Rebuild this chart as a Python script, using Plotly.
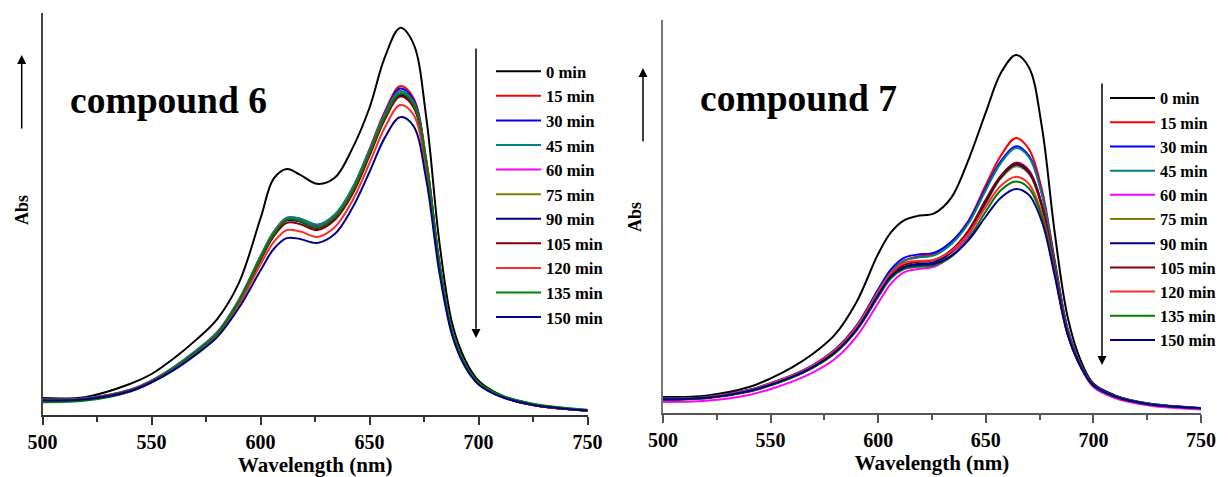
import plotly.graph_objects as go

wavelength = [500, 520, 540, 550, 560, 570, 580, 590, 600, 606, 612, 618, 626, 634,
              642, 650, 657, 664, 670, 676, 682, 688, 694, 700, 710, 725, 750]

time_labels = ["0 min", "15 min", "30 min", "45 min", "60 min", "75 min", "90 min",
               "105 min", "120 min", "135 min", "150 min"]

# compound 6 absorbance (arbitrary units)
c6_0 = [0.042, 0.045, 0.077, 0.102, 0.140, 0.185, 0.238, 0.328, 0.490, 0.588, 0.612, 0.598, 0.575, 0.590,
        0.662, 0.765, 0.890, 0.963, 0.925, 0.740, 0.430, 0.225, 0.135, 0.085, 0.050, 0.027, 0.012]
c6_15 = [0.038, 0.041, 0.062, 0.085, 0.118, 0.158, 0.205, 0.285, 0.395, 0.455, 0.490, 0.487, 0.470, 0.495,
         0.562, 0.662, 0.755, 0.818, 0.790, 0.635, 0.380, 0.205, 0.122, 0.078, 0.047, 0.025, 0.011]
c6_30 = [0.038, 0.041, 0.062, 0.085, 0.117, 0.157, 0.204, 0.284, 0.393, 0.453, 0.488, 0.485, 0.469, 0.494,
         0.560, 0.659, 0.751, 0.812, 0.785, 0.632, 0.378, 0.204, 0.122, 0.078, 0.047, 0.025, 0.011]
c6_45 = [0.039, 0.042, 0.063, 0.086, 0.119, 0.159, 0.206, 0.287, 0.396, 0.456, 0.491, 0.489, 0.474, 0.499,
         0.564, 0.660, 0.749, 0.806, 0.780, 0.630, 0.378, 0.205, 0.123, 0.079, 0.048, 0.026, 0.012]
c6_60 = [0.037, 0.040, 0.061, 0.084, 0.116, 0.156, 0.203, 0.283, 0.392, 0.452, 0.487, 0.484, 0.468, 0.493,
         0.557, 0.654, 0.744, 0.800, 0.775, 0.626, 0.376, 0.203, 0.122, 0.078, 0.047, 0.025, 0.011]
c6_75 = [0.037, 0.040, 0.061, 0.084, 0.116, 0.156, 0.202, 0.282, 0.391, 0.451, 0.486, 0.483, 0.467, 0.492,
         0.555, 0.652, 0.742, 0.798, 0.773, 0.625, 0.375, 0.203, 0.121, 0.078, 0.047, 0.025, 0.011]
c6_90 = [0.036, 0.039, 0.060, 0.083, 0.115, 0.155, 0.201, 0.281, 0.389, 0.449, 0.484, 0.481, 0.465, 0.490,
         0.553, 0.650, 0.739, 0.795, 0.770, 0.622, 0.373, 0.202, 0.121, 0.078, 0.047, 0.025, 0.011]
c6_105 = [0.037, 0.040, 0.061, 0.083, 0.115, 0.154, 0.200, 0.279, 0.385, 0.444, 0.478, 0.475, 0.460, 0.485,
          0.548, 0.645, 0.735, 0.792, 0.767, 0.620, 0.372, 0.202, 0.121, 0.078, 0.047, 0.025, 0.011]
c6_120 = [0.036, 0.039, 0.060, 0.082, 0.113, 0.152, 0.197, 0.274, 0.375, 0.430, 0.460, 0.457, 0.443, 0.467,
          0.532, 0.627, 0.715, 0.771, 0.748, 0.607, 0.366, 0.200, 0.120, 0.077, 0.047, 0.025, 0.011]
c6_135 = [0.032, 0.036, 0.058, 0.082, 0.114, 0.154, 0.201, 0.281, 0.390, 0.450, 0.486, 0.483, 0.467, 0.492,
          0.555, 0.652, 0.742, 0.800, 0.774, 0.626, 0.378, 0.206, 0.125, 0.081, 0.050, 0.028, 0.013]
c6_150 = [0.036, 0.039, 0.059, 0.081, 0.111, 0.149, 0.193, 0.266, 0.360, 0.413, 0.440, 0.438, 0.428, 0.450,
          0.514, 0.605, 0.690, 0.741, 0.720, 0.585, 0.355, 0.196, 0.118, 0.076, 0.046, 0.025, 0.011]

# compound 7 absorbance (arbitrary units)
c7_0 = [0.041, 0.044, 0.066, 0.088, 0.116, 0.152, 0.200, 0.283, 0.405, 0.460, 0.490, 0.501, 0.508, 0.548,
        0.645, 0.765, 0.865, 0.911, 0.880, 0.730, 0.460, 0.245, 0.135, 0.075, 0.045, 0.025, 0.013]
c7_15 = [0.036, 0.040, 0.058, 0.075, 0.095, 0.122, 0.160, 0.220, 0.310, 0.360, 0.388, 0.398, 0.405, 0.435,
         0.490, 0.580, 0.655, 0.700, 0.672, 0.570, 0.390, 0.215, 0.125, 0.072, 0.043, 0.024, 0.012]
c7_30 = [0.037, 0.041, 0.059, 0.076, 0.096, 0.123, 0.162, 0.223, 0.315, 0.366, 0.395, 0.403, 0.408, 0.436,
         0.488, 0.572, 0.641, 0.679, 0.655, 0.560, 0.385, 0.213, 0.124, 0.072, 0.043, 0.024, 0.012]
c7_45 = [0.036, 0.040, 0.058, 0.075, 0.095, 0.121, 0.159, 0.219, 0.309, 0.359, 0.387, 0.395, 0.401, 0.430,
         0.483, 0.567, 0.636, 0.674, 0.651, 0.557, 0.383, 0.212, 0.124, 0.072, 0.043, 0.024, 0.012]
c7_60 = [0.028, 0.031, 0.046, 0.061, 0.080, 0.104, 0.138, 0.195, 0.280, 0.330, 0.358, 0.366, 0.372, 0.400,
         0.452, 0.533, 0.600, 0.637, 0.618, 0.532, 0.368, 0.205, 0.118, 0.066, 0.038, 0.020, 0.009]
c7_75 = [0.033, 0.037, 0.054, 0.070, 0.090, 0.116, 0.152, 0.210, 0.296, 0.345, 0.370, 0.377, 0.382, 0.408,
         0.458, 0.535, 0.597, 0.628, 0.609, 0.526, 0.366, 0.205, 0.120, 0.070, 0.042, 0.023, 0.012]
c7_90 = [0.034, 0.038, 0.055, 0.071, 0.091, 0.117, 0.154, 0.212, 0.298, 0.347, 0.372, 0.379, 0.384, 0.410,
         0.460, 0.538, 0.600, 0.632, 0.612, 0.528, 0.367, 0.205, 0.120, 0.070, 0.042, 0.023, 0.012]
c7_105 = [0.035, 0.039, 0.056, 0.072, 0.092, 0.118, 0.155, 0.214, 0.302, 0.352, 0.377, 0.384, 0.389, 0.415,
          0.465, 0.543, 0.604, 0.636, 0.616, 0.531, 0.369, 0.206, 0.121, 0.071, 0.042, 0.023, 0.012]
c7_120 = [0.036, 0.040, 0.058, 0.075, 0.095, 0.122, 0.160, 0.220, 0.308, 0.356, 0.382, 0.387, 0.390, 0.412,
          0.457, 0.525, 0.578, 0.601, 0.583, 0.508, 0.358, 0.202, 0.120, 0.070, 0.042, 0.023, 0.012]
c7_135 = [0.034, 0.038, 0.055, 0.071, 0.091, 0.117, 0.153, 0.211, 0.296, 0.343, 0.366, 0.372, 0.376, 0.398,
          0.444, 0.513, 0.567, 0.589, 0.572, 0.500, 0.355, 0.201, 0.119, 0.070, 0.042, 0.023, 0.012]
c7_150 = [0.035, 0.039, 0.056, 0.072, 0.092, 0.118, 0.155, 0.213, 0.300, 0.348, 0.370, 0.376, 0.380, 0.400,
          0.440, 0.500, 0.548, 0.570, 0.555, 0.488, 0.350, 0.200, 0.119, 0.070, 0.042, 0.023, 0.012]

compound6 = [c6_0, c6_15, c6_30, c6_45, c6_60, c6_75, c6_90, c6_105, c6_120, c6_135, c6_150]
compound7 = [c7_0, c7_15, c7_30, c7_45, c7_60, c7_75, c7_90, c7_105, c7_120, c7_135, c7_150]

colors = ["#000000", "#ff0000", "#0000ff", "#008080", "#ff00ff", "#808000", "#000080",
          "#800000", "#ff2a2a", "#008000", "#00008b"]

W, H = 1228, 477
SERIF = "Liberation Serif"


def px(x):
    return x / W


def py(y):
    return 1 - y / H


fig = go.Figure()
for i, (lab, col) in enumerate(zip(time_labels, colors)):
    fig.add_trace(go.Scatter(x=wavelength, y=compound6[i], mode="lines", name=lab,
                             line=dict(color=col, width=2, shape="spline", smoothing=1.0),
                             xaxis="x", yaxis="y", legend="legend"))
for i, (lab, col) in enumerate(zip(time_labels, colors)):
    fig.add_trace(go.Scatter(x=wavelength, y=compound7[i], mode="lines", name=lab,
                             line=dict(color=col, width=2, shape="spline", smoothing=1.0),
                             xaxis="x2", yaxis="y2", legend="legend2"))

xcommon = dict(range=[500, 750], tickvals=[500, 550, 600, 650, 700, 750], ticks="outside",
               ticklen=8, tickwidth=1.5, showline=True, linewidth=2, showgrid=False,
               zeroline=False, automargin=False,
               tickfont=dict(family=SERIF, size=20, color="black", weight="bold"),
               minor=dict(tickvals=[525, 575, 625, 675, 725], ticks="outside", ticklen=5, tickwidth=1.5),
               title=dict(text="Wavelength (nm)", font=dict(family=SERIF, size=21, color="black", weight="bold"),
                          standoff=4))
ycommon = dict(range=[0, 1], showline=True, linewidth=2, showgrid=False, zeroline=False,
               showticklabels=False, ticks="", automargin=False)

fig.update_layout(
    template="none",
    width=W, height=H, margin=dict(l=0, r=0, t=0, b=0, autoexpand=False),
    paper_bgcolor="white", plot_bgcolor="white", showlegend=True,
    xaxis=dict(domain=[px(42.6), px(587.6)], anchor="y", linecolor="#333333", tickcolor="#333333",
               minor_tickcolor="#333333", **xcommon),
    yaxis=dict(domain=[py(415), py(13)], anchor="x", linecolor="#444444", **ycommon),
    xaxis2=dict(domain=[px(663), px(1201)], anchor="y2", linecolor="#555555", tickcolor="#555555",
                minor_tickcolor="#555555", **xcommon),
    yaxis2=dict(domain=[py(413), py(20)], anchor="x2", linecolor="#777777", **ycommon),
    legend=dict(x=px(491), y=py(54), xanchor="left", yanchor="top", bgcolor="rgba(0,0,0,0)",
                font=dict(family=SERIF, size=16.6, color="black", weight="bold"), tracegroupgap=0,
                itemwidth=45, itemclick=False),
    legend2=dict(x=px(1105), y=py(81), xanchor="left", yanchor="top", bgcolor="rgba(0,0,0,0)",
                 font=dict(family=SERIF, size=16.3, color="black", weight="bold"), tracegroupgap=0,
                 itemwidth=45, itemclick=False),
)

anns = [
    dict(text="compound 6", x=px(68), y=py(100), xanchor="left", yanchor="middle",
         font=dict(family=SERIF, size=37.5, color="black", weight="bold")),
    dict(text="compound 7", x=px(698), y=py(99), xanchor="left", yanchor="middle",
         font=dict(family=SERIF, size=37.5, color="black", weight="bold")),
    dict(text="Abs", x=px(22), y=py(210), textangle=-90, xanchor="center", yanchor="middle",
         font=dict(family=SERIF, size=18, color="black", weight="bold")),
    dict(text="Abs", x=px(635), y=py(217), textangle=-90, xanchor="center", yanchor="middle",
         font=dict(family=SERIF, size=18, color="black", weight="bold")),
]
for a in anns:
    a.update(xref="paper", yref="paper", showarrow=False)
    fig.add_annotation(**a)

arrows = [(21.7, 55, 75), (476, 338, -291), (643, 68, 75), (1102, 365, -283)]
for (xx, yy, ay) in arrows:
    fig.add_annotation(x=px(xx), y=py(yy), xref="paper", yref="paper", text="", showarrow=True,
                       ax=0, ay=ay, arrowhead=2, arrowsize=1.2, arrowwidth=1.5, arrowcolor="black")

fig.write_html("out.html")
